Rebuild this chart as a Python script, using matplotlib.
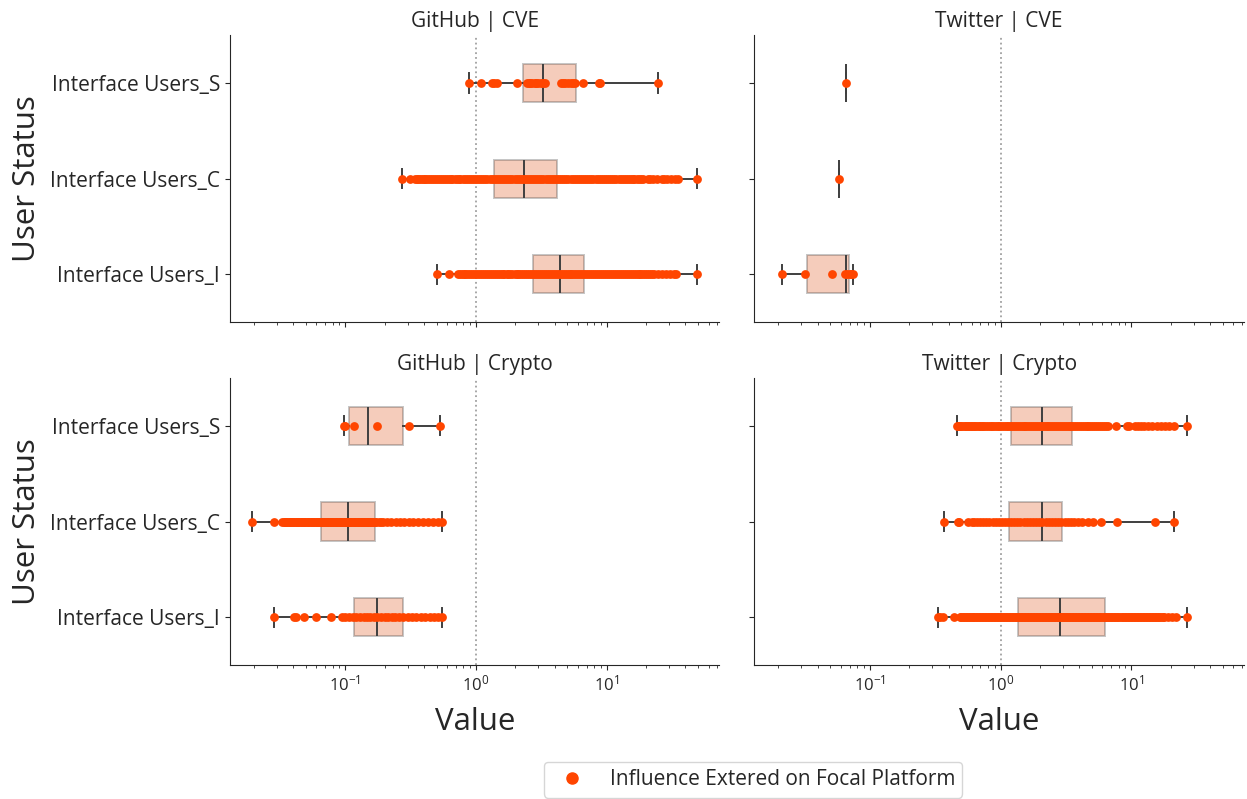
import matplotlib
matplotlib.use("Agg")
import matplotlib.pyplot as plt
from matplotlib.lines import Line2D

plt.rcParams["font.family"] = ["Open Sans", "DejaVu Sans"]
plt.rcParams["mathtext.fontset"] = "dejavusans"
for key in ("text.color", "axes.labelcolor", "xtick.color", "ytick.color", "axes.edgecolor"):
    plt.rcParams[key] = "0.15"

platforms = ["GitHub", "Twitter"]
topics = ["CVE", "Crypto"]
statuses = ["Interface Users_S", "Interface Users_C", "Interface Users_I"]

# ---- influence values per user, grouped by panel and status (S, C, I) ----
github_cve_s = [0.885, 1.10, 1.33, 1.38, 1.45, 2.04, 2.44, 2.52, 2.6, 2.7, 2.8, 2.9,
                3.0, 3.12, 3.25, 3.36, 4.5, 4.62, 4.8, 5.05, 5.3, 5.55, 5.7, 6.56,
                8.75, 8.9, 24.6]
github_cve_c = [0.271, 0.313, 0.342, 0.352, 0.36, 0.372, 0.385, 0.397, 0.41, 0.425,
                0.44, 0.455, 0.47, 0.485, 0.5, 0.52, 0.54, 0.56, 0.58, 0.6, 0.62, 0.64,
                0.66, 0.685, 0.71, 0.735, 0.76, 0.79, 0.82, 0.85, 0.88, 0.915, 0.95,
                0.985, 1.02, 1.06, 1.1, 1.14, 1.18, 1.22, 1.27, 1.32, 1.37, 1.42, 1.47,
                1.52, 1.58, 1.64, 1.7, 1.76, 1.83, 1.9, 1.97, 2.04, 2.12, 2.2, 2.28,
                2.36, 2.45, 2.54, 2.64, 2.74, 2.84, 2.94, 3.05, 3.16, 3.28, 3.4, 3.53,
                3.66, 3.8, 3.94, 4.09, 4.24, 4.4, 4.56, 4.73, 4.91, 5.09, 5.28, 5.48,
                5.69, 5.9, 6.12, 6.35, 6.59, 6.83, 7.09, 7.35, 7.62, 7.9, 8.2, 8.5,
                8.82, 9.15, 9.5, 9.85, 10.2, 10.6, 11.0, 11.4, 11.85, 12.3, 12.75, 13.2,
                13.7, 14.2, 14.75, 15.3, 15.8, 16.2, 17.0, 17.6, 18.3, 19.0, 20.5, 21.4,
                22.4, 24.1, 26.5, 27.6, 29.0, 31.0, 33.0, 34.9, 49.2]
github_cve_i = [0.507, 0.622, 0.733, 0.755, 0.78, 0.805, 0.83, 0.86, 0.89, 0.92, 0.95,
                0.985, 1.02, 1.055, 1.09, 1.13, 1.17, 1.21, 1.25, 1.3, 1.34, 1.39, 1.44,
                1.49, 1.54, 1.6, 1.65, 1.71, 1.77, 1.83, 1.9, 1.97, 2.04, 2.11, 2.18,
                2.26, 2.34, 2.42, 2.51, 2.6, 2.69, 2.78, 2.88, 2.98, 3.09, 3.2, 3.31,
                3.43, 3.55, 3.67, 3.8, 3.93, 4.07, 4.21, 4.36, 4.52, 4.68, 4.84, 5.01,
                5.19, 5.37, 5.56, 5.76, 5.96, 6.17, 6.39, 6.61, 6.85, 7.09, 7.34, 7.6,
                7.87, 8.14, 8.43, 8.72, 9.03, 9.35, 9.68, 10.0, 10.35, 10.7, 11.1, 11.5,
                11.9, 12.3, 12.75, 13.2, 13.7, 14.2, 14.7, 15.2, 15.75, 16.3, 16.9, 17.5,
                18.1, 18.7, 19.4, 20.1, 20.8, 21.5, 22.3, 23.1, 24.8, 26.6, 28.5, 30.5,
                32.7, 34.0, 49.2]

twitter_cve_s = [0.0656]
twitter_cve_c = [0.0577]
twitter_cve_i = [0.0213, 0.0317, 0.0513, 0.0641, 0.0668, 0.0700, 0.0720, 0.0746]

github_crypto_s = [0.097, 0.100, 0.1157, 0.1745, 0.308, 0.53]
github_crypto_c = [0.0194, 0.0284, 0.0329, 0.0337, 0.0345, 0.0352, 0.036, 0.0368,
                   0.0375, 0.0383, 0.039, 0.04, 0.0408, 0.0417, 0.0425, 0.0435,
                   0.0445, 0.0455, 0.0465, 0.0475, 0.0485, 0.0496, 0.0507, 0.0518,
                   0.053, 0.0542, 0.0555, 0.0567, 0.058, 0.0593, 0.0606, 0.062,
                   0.0634, 0.0648, 0.0663, 0.0678, 0.0693, 0.0709, 0.0725, 0.0741,
                   0.0758, 0.0775, 0.0793, 0.0811, 0.083, 0.0849, 0.0868, 0.0888,
                   0.0908, 0.0929, 0.095, 0.0972, 0.0994, 0.1017, 0.104, 0.1065, 0.109,
                   0.1115, 0.114, 0.1165, 0.119, 0.122, 0.125, 0.128, 0.131, 0.134,
                   0.137, 0.14, 0.143, 0.1465, 0.15, 0.1535, 0.157, 0.1605, 0.164,
                   0.168, 0.172, 0.18, 0.188, 0.195, 0.21, 0.225, 0.245, 0.26, 0.28,
                   0.305, 0.33, 0.36, 0.39, 0.43, 0.47, 0.51, 0.547]
github_crypto_i = [0.0284, 0.0403, 0.042, 0.0481, 0.060, 0.0782, 0.094, 0.1, 0.107,
                   0.115, 0.121, 0.13, 0.138, 0.146, 0.155, 0.165, 0.176, 0.188, 0.2,
                   0.212, 0.226, 0.24, 0.258, 0.278, 0.3, 0.325, 0.35, 0.378, 0.41,
                   0.445, 0.48, 0.515, 0.547]

twitter_crypto_s = [0.461, 0.47, 0.48, 0.49, 0.5, 0.515, 0.53, 0.545, 0.56, 0.575,
                    0.59, 0.607, 0.625, 0.642, 0.66, 0.68, 0.7, 0.72, 0.74, 0.765,
                    0.79, 0.815, 0.84, 0.865, 0.89, 0.92, 0.95, 0.98, 1.01, 1.045,
                    1.08, 1.115, 1.15, 1.19, 1.23, 1.27, 1.31, 1.355, 1.4, 1.45, 1.5,
                    1.55, 1.6, 1.655, 1.71, 1.77, 1.83, 1.895, 1.96, 2.03, 2.1, 2.17,
                    2.25, 2.32, 2.4, 2.485, 2.57, 2.66, 2.75, 2.845, 2.94, 3.04, 3.15,
                    3.26, 3.37, 3.48, 3.6, 3.72, 3.85, 3.98, 4.12, 4.26, 4.4, 4.55, 4.7,
                    4.87, 5.05, 5.22, 5.4, 5.6, 5.8, 6.0, 6.2, 6.42, 6.64, 7.68, 9.2,
                    9.6, 10.6, 11.2, 11.9, 12.6, 13.5, 14.5, 15.6, 16.8, 18.0, 19.5,
                    21.4, 26.6]
twitter_crypto_c = [0.369, 0.475, 0.48, 0.567, 0.6, 0.625, 0.66, 0.7, 0.74, 0.78,
                    0.82, 0.87, 0.92, 0.97, 1.02, 1.08, 1.14, 1.2, 1.27, 1.34, 1.42,
                    1.5, 1.58, 1.67, 1.77, 1.87, 1.98, 2.09, 2.21, 2.34, 2.47, 2.61,
                    2.76, 2.92, 3.09, 3.27, 3.46, 3.66, 3.9, 4.2, 4.67, 5.1, 5.83,
                    7.78, 15.3, 21.2]
twitter_crypto_i = [0.334, 0.345, 0.36, 0.443, 0.49, 0.502, 0.515, 0.527, 0.54, 0.555,
                    0.57, 0.585, 0.6, 0.615, 0.63, 0.647, 0.665, 0.682, 0.7, 0.72,
                    0.74, 0.76, 0.78, 0.8, 0.82, 0.842, 0.865, 0.887, 0.91, 0.935,
                    0.96, 0.985, 1.01, 1.04, 1.07, 1.1, 1.13, 1.16, 1.19, 1.22, 1.25,
                    1.285, 1.32, 1.355, 1.39, 1.43, 1.47, 1.51, 1.55, 1.59, 1.63,
                    1.675, 1.72, 1.765, 1.81, 1.86, 1.91, 1.965, 2.02, 2.075, 2.13,
                    2.185, 2.24, 2.3, 2.36, 2.425, 2.49, 2.56, 2.63, 2.7, 2.77, 2.845,
                    2.92, 3.0, 3.08, 3.165, 3.25, 3.335, 3.42, 3.515, 3.61, 3.705, 3.8,
                    3.905, 4.01, 4.12, 4.23, 4.345, 4.46, 4.58, 4.7, 4.83, 4.96, 5.095,
                    5.23, 5.37, 5.51, 5.66, 5.81, 5.97, 6.13, 6.3, 6.46, 6.64, 6.81,
                    7.0, 7.18, 7.37, 7.57, 7.78, 7.98, 8.2, 8.42, 8.65, 8.88, 9.12,
                    9.36, 9.61, 9.87, 10.1, 10.4, 10.7, 11.0, 11.3, 11.6, 11.9, 12.2,
                    12.55, 12.9, 13.25, 13.6, 13.95, 14.3, 14.7, 15.1, 15.5, 15.9,
                    16.35, 16.8, 17.35, 17.9, 19.0, 20.5, 22.0, 26.6]

# ---- box statistics (first quartile, median, third quartile) per status ----
github_cve_q1 = [2.27, 1.37, 2.72]
github_cve_med = [3.27, 2.34, 4.38]
github_cve_q3 = [5.77, 4.13, 6.71]

twitter_cve_q1 = [0.0656, 0.0577, 0.0330]
twitter_cve_med = [0.0656, 0.0577, 0.0659]
twitter_cve_q3 = [0.0656, 0.0577, 0.0687]

github_crypto_q1 = [0.1067, 0.0656, 0.1157]
github_crypto_med = [0.149, 0.104, 0.1745]
github_crypto_q3 = [0.275, 0.170, 0.275]

twitter_crypto_q1 = [1.20, 1.17, 1.36]
twitter_crypto_med = [2.07, 2.07, 2.87]
twitter_crypto_q3 = [3.53, 2.96, 6.33]

panels = {
    ("GitHub", "CVE"): ([github_cve_s, github_cve_c, github_cve_i],
                        github_cve_q1, github_cve_med, github_cve_q3),
    ("Twitter", "CVE"): ([twitter_cve_s, twitter_cve_c, twitter_cve_i],
                         twitter_cve_q1, twitter_cve_med, twitter_cve_q3),
    ("GitHub", "Crypto"): ([github_crypto_s, github_crypto_c, github_crypto_i],
                           github_crypto_q1, github_crypto_med, github_crypto_q3),
    ("Twitter", "Crypto"): ([twitter_crypto_s, twitter_crypto_c, twitter_crypto_i],
                            twitter_crypto_q1, twitter_crypto_med, twitter_crypto_q3),
}

point_color = "#FF4500"
box_face = (0.875, 0.347, 0.125, 0.3)
box_edge = (0.24, 0.24, 0.24, 0.3)
line_color = "#3f3f3f"

fig, axes = plt.subplots(2, 2, figsize=(12.47, 7.99), dpi=100, sharex=True, sharey=True)
fig.subplots_adjust(left=0.1844, right=0.9976, bottom=0.1677, top=0.956,
                    wspace=0.0714, hspace=0.195)

for r, topic in enumerate(topics):
    for c, platform in enumerate(platforms):
        ax = axes[r, c]
        values, q1, med, q3 = panels[(platform, topic)]
        stats = []
        for k, vals in enumerate(values):
            stats.append(dict(q1=q1[k], med=med[k], q3=q3[k],
                              whislo=min(vals), whishi=max(vals), fliers=[]))
        ax.bxp(stats, positions=[0, 1, 2], widths=0.4, orientation="horizontal",
               patch_artist=True, showfliers=False,
               boxprops=dict(facecolor=box_face, edgecolor=box_edge, linewidth=1.4),
               medianprops=dict(color=line_color, linewidth=1.4),
               whiskerprops=dict(color=line_color, linewidth=1.4),
               capprops=dict(color=line_color, linewidth=1.4))
        for k, vals in enumerate(values):
            ax.scatter(vals, [k] * len(vals), s=40, color=point_color,
                       linewidths=0, zorder=3)
        ax.axvline(1.0, color="#a0a0a0", linestyle=":", linewidth=1.3, zorder=0)
        ax.set_xscale("log")
        ax.set_title(f"{platform} | {topic}", fontsize=15)
        ax.spines["top"].set_visible(False)
        ax.spines["right"].set_visible(False)
        ax.tick_params(axis="x", labelsize=12)
        ax.tick_params(axis="y", labelsize=15)
        if c == 0:
            ax.set_ylabel("User Status", fontsize=22.5, labelpad=6)
        if r == 1:
            ax.set_xlabel("Value", fontsize=22.5, labelpad=9)

axes[0, 0].set_yticks([0, 1, 2])
axes[0, 0].set_yticklabels(statuses)
axes[0, 0].set_ylim(2.5, -0.5)

handle = Line2D([], [], marker="o", linestyle="", color=point_color, markersize=8)
fig.legend([handle], ["Influence Extered on Focal Platform"], loc="upper center",
           bbox_to_anchor=(0.604, 0.0593), fontsize=15, borderpad=0.35)

fig.savefig("out.png", dpi=100)
